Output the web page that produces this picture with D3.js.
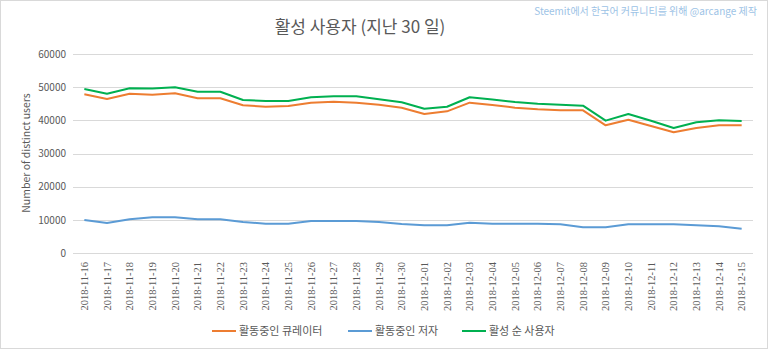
<!DOCTYPE html>
<html><head><meta charset="utf-8">
<script src="https://cdn.jsdelivr.net/npm/d3@7"></script>
<style>body{margin:0;background:#fff}svg{display:block}</style>
</head><body><svg id="c" width="768" height="349"></svg>
<script>
const dates = ["2018-11-16","2018-11-17","2018-11-18","2018-11-19","2018-11-20","2018-11-21","2018-11-22","2018-11-23","2018-11-24","2018-11-25","2018-11-26","2018-11-27","2018-11-28","2018-11-29","2018-11-30","2018-12-01","2018-12-02","2018-12-03","2018-12-04","2018-12-05","2018-12-06","2018-12-07","2018-12-08","2018-12-09","2018-12-10","2018-12-11","2018-12-12","2018-12-13","2018-12-14","2018-12-15"];
const curators = [47850,46430,48030,47730,48150,46640,46640,44530,44110,44320,45320,45620,45320,44710,43810,41910,42720,45320,44620,43810,43330,43020,43020,38500,40190,38290,36390,37690,38500,38500];
const authors = [9950,9050,10160,10760,10760,10160,10160,9350,8840,8840,9650,9650,9650,9350,8740,8350,8350,9140,8840,8840,8840,8640,7750,7750,8640,8640,8640,8350,8040,7330];
const total = [49450,48030,49650,49600,49950,48640,48600,46130,45830,45800,46950,47240,47250,46340,45430,43500,44100,46950,46300,45530,45000,44700,44420,39900,41900,39850,37700,39400,40000,39800];
const yTicks = [0,10000,20000,30000,40000,50000,60000];
const seriesNames = ["활동중인 큐레이터","활동중인 저자","활성 순 사용자"];
const colors = ["#ED7D31","#5B9BD5","#00B050"];
const title = "활성 사용자 (지난 30 일)";
const watermark = "Steemit에서 한국어 커뮤니티를 위해 @arcange 제작";
const yLabel = "Number of distinct users";

const svg = d3.select("#c");
const font = "'Noto Sans CJK KR','Noto Sans',sans-serif";
svg.append("rect").attr("x",0.5).attr("y",0.5).attr("width",767).attr("height",348)
  .attr("fill","#fff").attr("stroke","#d9d9d9");

const x = d3.scaleBand().domain(dates).range([73,753]);
const y = d3.scaleLinear().domain([0,60000]).range([253,54]);

// gridlines
svg.append("g").selectAll("line").data(yTicks).join("line")
  .attr("x1",73).attr("x2",753).attr("y1",d=>Math.round(y(d))+0.5).attr("y2",d=>Math.round(y(d))+0.5)
  .attr("stroke","#d9d9d9").attr("stroke-width",1);

// y axis labels
const ya = svg.append("g").attr("transform","translate(66,0)")
  .call(d3.axisLeft(y).tickValues(yTicks).tickSize(0).tickPadding(0).tickFormat(d3.format("d")));
ya.select(".domain").remove();
ya.selectAll("text").attr("fill","#595959").style("font-family",font).style("font-size","10px");

// x axis labels
const xa = svg.append("g").attr("transform","translate(0,253)")
  .call(d3.axisBottom(x).tickSize(0).tickPadding(0));
xa.select(".domain").remove();
xa.selectAll("text").attr("fill","#595959").style("font-family","'Liberation Serif',serif").style("font-size","10.5px")
  .attr("text-anchor","end").attr("dy","0.35em")
  .attr("transform","translate(0,9) rotate(-90)").attr("x",0).attr("y",0);

// lines
const line = d3.line().x((d,i)=>x(dates[i])+x.bandwidth()/2).y(d=>y(d));
[curators,authors,total].forEach((s,k)=>{
  svg.append("path").datum(s).attr("d",line).attr("fill","none")
    .attr("stroke",colors[k]).attr("stroke-width",2).attr("stroke-linejoin","round");
});

// title
svg.append("text").attr("x",360).attr("y",33).attr("text-anchor","middle")
  .attr("fill","#595959").style("font-family",font).style("font-size","17px").text(title);
svg.append("text").attr("x",757).attr("y",15).attr("text-anchor","end")
  .attr("fill","#9dc3e6").style("font-family",font).style("font-size","10px").text(watermark);

// y label
svg.append("text").attr("transform","translate(30,153) rotate(-90)").attr("text-anchor","middle")
  .attr("fill","#595959").style("font-family",font).style("font-size","10.5px").text(yLabel);

// legend
const legX = [212,348,462];
seriesNames.forEach((n,k)=>{
  const g = svg.append("g").attr("transform",`translate(${legX[k]},331)`);
  g.append("line").attr("x1",0).attr("x2",24).attr("stroke",colors[k]).attr("stroke-width",2);
  g.append("text").attr("x",27).attr("dy","0.35em").attr("fill","#595959")
    .style("font-family",font).style("font-size","11px").text(n);
});
</script></body></html>
